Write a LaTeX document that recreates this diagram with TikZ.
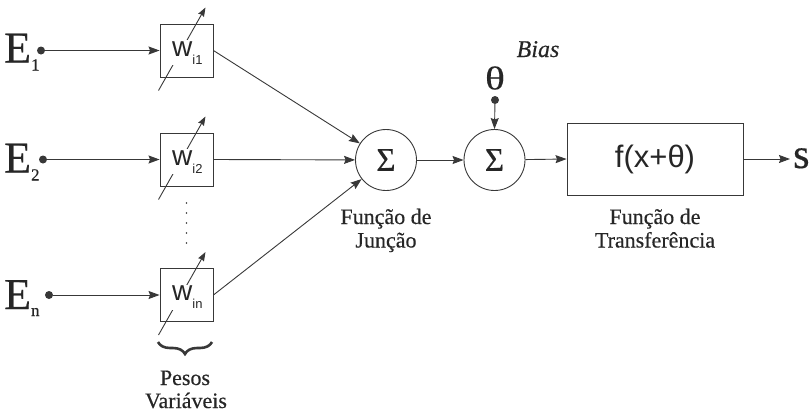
\documentclass[tikz,border=0pt]{standalone}
\usepackage{fontspec}
\setmainfont{Liberation Serif}
\newfontfamily\seriff[FakeBold=0.4]{Liberation Serif}
\newfontfamily\sansf{Liberation Sans}
\usetikzlibrary{arrows.meta,decorations.pathreplacing}
\definecolor{ink}{gray}{0.22}
\definecolor{tink}{gray}{0.15}
\begin{document}
\begin{tikzpicture}[x=1pt,y=-1pt,
  every node/.style={text=tink},
  line/.style={draw=ink,line width=0.9pt},
  arr/.style={line,-{Stealth[length=11pt,width=8pt,inset=1.5pt]}},
  adj/.style={line,-{Stealth[length=9pt,width=6.5pt,inset=1pt]}},
  wbox/.style={draw=ink,line width=0.9pt,minimum size=53pt,inner sep=0pt},
  wtext/.style={fill=white,inner sep=1pt,anchor=base west,font=\sansf},
  dotn/.style={circle,fill=ink,inner sep=0pt,minimum size=8pt},
  sumn/.style={circle,draw=ink,line width=0.9pt,minimum size=61pt,inner sep=0pt,font=\seriff\fontsize{33}{33}\selectfont},
  lbl/.style={anchor=base,inner sep=0pt,font=\seriff\fontsize{22}{22}\selectfont},
  enode/.style={anchor=base west,inner sep=0pt,font=\seriff},
  bracest/.style={draw=ink,line width=2.6pt,decorate,decoration={brace,amplitude=12pt}}
]
\useasboundingbox (0,0) rectangle (811,413);

% weight boxes
\node[wbox] (b1) at (186.5,50.5) {};
\node[wbox] (b2) at (186.5,159.5) {};
\node[wbox] (bn) at (186.5,295) {};

% adjustment arrows
\foreach \b in {b1,b2,bn}{
  \draw[adj] ([shift={(-28,40)}]\b.center) -- ([shift={(19,-43)}]\b.center);
}

% weight labels
\node[wtext] (t1) at (171,56) {\fontsize{28}{28}\selectfont w\raisebox{-8pt}{\fontsize{13}{13}\selectfont i1}};
\node[wtext] (t2) at (171,165) {\fontsize{28}{28}\selectfont w\raisebox{-8pt}{\fontsize{13}{13}\selectfont i2}};
\node[wtext] (tn) at (171,300.5) {\fontsize{28}{28}\selectfont w\raisebox{-8pt}{\fontsize{13}{13}\selectfont in}};

% inputs
\node[enode] (e1) at (4,62.5) {\fontsize{44}{44}\selectfont E\raisebox{-8pt}{\fontsize{17}{17}\selectfont 1}};
\node[enode] (e2) at (4,172.5) {\fontsize{44}{44}\selectfont E\raisebox{-8pt}{\fontsize{17}{17}\selectfont 2}};
\node[enode] (en) at (4,309) {\fontsize{44}{44}\selectfont E\raisebox{-7pt}{\fontsize{17}{17}\selectfont n}};
\node[dotn] (d1) at (41,50.5) {};
\node[dotn] (d2) at (43,159.5) {};
\node[dotn] (dn) at (49,295) {};
\draw[arr] (d1) -- (b1.west);
\draw[arr] (d2) -- (b2.west);
\draw[arr] (dn) -- (bn.west);

% vertical dots
\foreach \y in {203,213,223,233,243}{
  \fill[ink] (186.5,\y) circle (0.8pt);
}

% brace and label
\draw[bracest] (212,342) -- (158,342);
\node[lbl] (p1) at (185,385) {Pesos};
\node[lbl] (p2) at (186,408) {Variáveis};

% summation nodes
\node[sumn] (s1) at (386,160) {Σ};
\node[sumn] (s2) at (494.5,160) {Σ};
\draw[arr] (b1.east) -- (s1);
\draw[arr] (b2.east) -- (s1);
\draw[arr] (bn.east) -- (s1);
\draw[arr] (s1) -- (s2);

\node[lbl] (j1) at (386,224) {Função de};
\node[lbl] (j2) at (386,247.5) {Junção};

% bias
\node[inner sep=0pt,font=\seriff] (th) at (495,78) {\scalebox{1.25}[1]{\fontsize{33}{33}\selectfont θ}};
\node[dotn] (dt) at (495,100) {};
\draw[arr] (dt) -- (s2.north);
\node[lbl] (bias) at (538,57) {\fontsize{24}{24}\selectfont\itshape Bias};

% transfer function
\node[draw=ink,line width=0.9pt,minimum width=176pt,minimum height=72pt,inner sep=0pt,font=\sansf\fontsize{31}{31}\selectfont] (fb) at (655,159) {f(x+θ)};
\draw[arr] (s2) -- (fb.west);
\node[lbl] (f1) at (655,224) {Função de};
\node[lbl] (f2) at (655,247.5) {Transferência};

% output
\coordinate (out) at (790,159);
\draw[arr] (fb.east) -- (out);
\node[enode] (s) at (793,168) {\fontsize{42}{42}\selectfont s};
\end{tikzpicture}
\end{document}
